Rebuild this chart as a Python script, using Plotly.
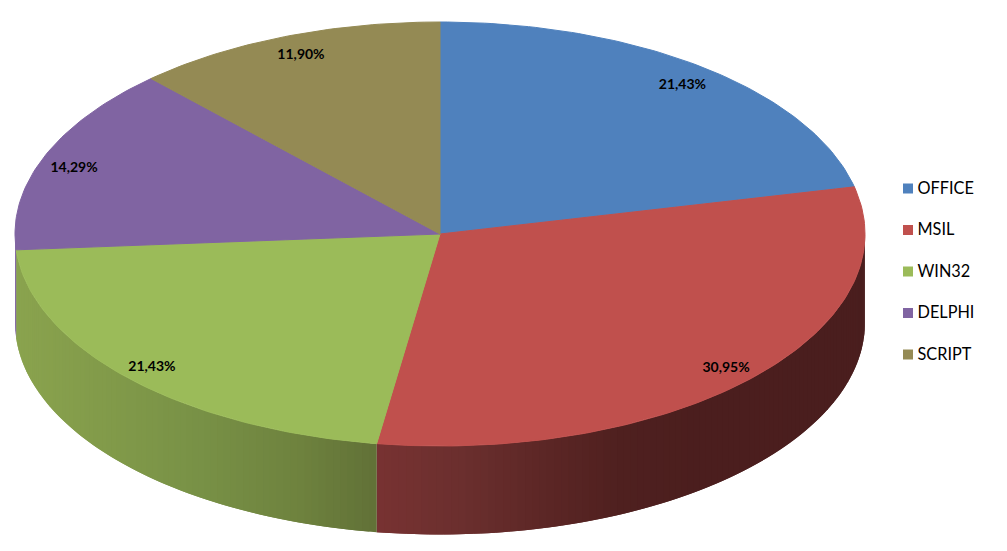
import math
import plotly.graph_objects as go

categories = ["OFFICE", "MSIL", "WIN32", "DELPHI", "SCRIPT"]
shares = [21.43, 30.95, 21.43, 14.29, 11.90]
share_labels = ["21,43%", "30,95%", "21,43%", "14,29%", "11,90%"]
colors = ["#4F81BD", "#C0504D", "#9BBB59", "#8064A2", "#948A54"]

CX, CY, RX, RY, DEPTH = 440, 234, 425, 212, 88.5
LABEL_R = 0.915
FONT = "Lato"
label_nudge_x = [0, 1, -3, -4, 3]
label_nudge_y = [3, 3, 2, 5, 2]

# side-wall shading: (pixel x, rgb) stops per slice index
side_shades = {
    1: [(376, (120, 50, 50)), (460, (107, 47, 46)), (540, (93, 39, 38)), (620, (79, 32, 31)), (700, (75, 30, 30)), (865, (74, 30, 30))],
    2: [(16, (138, 163, 78)), (100, (130, 155, 74)), (200, (120, 145, 70)), (300, (110, 130, 62)), (376, (97, 113, 55))],
    3: [(14, (125, 97, 158)), (17, (125, 97, 158))],
}


def pt(deg, dy=0.0, r=1.0):
    a = math.radians(deg)
    return CX + RX * r * math.sin(a), CY - RY * r * math.cos(a) + dy


def shade(stops, x):
    if x <= stops[0][0]:
        c = stops[0][1]
    elif x >= stops[-1][0]:
        c = stops[-1][1]
    else:
        c = stops[0][1]
        for (x0, c0), (x1, c1) in zip(stops, stops[1:]):
            if x0 <= x <= x1:
                t = (x - x0) / (x1 - x0)
                c = tuple(round(u + (v - u) * t) for u, v in zip(c0, c1))
                break
    return "rgb(%d,%d,%d)" % tuple(c)


total = sum(shares)
edges = [0.0]
for s in shares:
    edges.append(edges[-1] + s / total * 360)

fig = go.Figure()


def poly(xs, ys, color, width=1):
    fig.add_trace(go.Scatter(x=xs, y=ys, mode="lines", fill="toself", fillcolor=color,
                             line=dict(color=color, width=width), hoverinfo="skip", showlegend=False))


# side walls: each band runs on under the next one, so no seams show
for i, stops in side_shades.items():
    a0 = max(edges[i], 90.0)
    a1 = min(edges[i + 1], 270.0)
    if a1 <= a0:
        continue
    n = max(2, int((a1 - a0) / 1.0))
    for k in range(n):
        s0 = a0 + (a1 - a0) * k / n
        s1 = a0 + (a1 - a0) * (k + 1) / n
        s2 = min(a1, s1 + (a1 - a0) / n)
        mid = pt((s0 + s1) / 2)
        arc = [pt(s0), pt(s1), pt(s2)]
        low = [pt(s2, DEPTH), pt(s1, DEPTH), pt(s0, DEPTH)]
        ring = arc + low + [arc[0]]
        poly([p[0] for p in ring], [p[1] for p in ring], shade(stops, mid[0]), width=0)

# top slices
for i, c in enumerate(colors):
    n = max(8, int((edges[i + 1] - edges[i]) / 1.0))
    pts = [pt(edges[i] + (edges[i + 1] - edges[i]) * k / n) for k in range(n + 1)]
    poly([CX] + [p[0] for p in pts] + [CX], [CY] + [p[1] for p in pts] + [CY], c)

# percentage labels
lab = [pt((edges[i] + edges[i + 1]) / 2, r=LABEL_R) for i in range(len(shares))]
fig.add_trace(go.Scatter(x=[p[0] + dx for p, dx in zip(lab, label_nudge_x)],
                         y=[p[1] + dy for p, dy in zip(lab, label_nudge_y)], mode="text", text=share_labels,
                         textposition="middle center", textfont=dict(family=FONT, size=14, color="#000000", weight="bold"),
                         hoverinfo="skip", showlegend=False))

# legend
LEG_SW_X, LEG_TEXT_X, LEG_Y0, LEG_STEP = 908, 917.5, 188.5, 41.5
leg_y = [LEG_Y0 + LEG_STEP * i for i in range(len(categories))]
fig.add_trace(go.Scatter(x=[LEG_SW_X] * len(categories), y=leg_y, mode="markers",
                         marker=dict(symbol="square", size=10, color=colors, line=dict(width=0)),
                         hoverinfo="skip", showlegend=False))
fig.add_trace(go.Scatter(x=[LEG_TEXT_X] * len(categories), y=[v + 1 for v in leg_y], mode="text", text=categories,
                         textposition="middle right", textfont=dict(family=FONT, size=16.3, color="#000000"),
                         hoverinfo="skip", showlegend=False))

fig.update_layout(width=1007, height=551, margin=dict(l=0, r=0, t=0, b=0), showlegend=False,
                  paper_bgcolor="#FFFFFF", plot_bgcolor="#FFFFFF",
                  xaxis=dict(range=[0, 1007], visible=False, fixedrange=True),
                  yaxis=dict(range=[551, 0], visible=False, fixedrange=True))
fig.write_html("out.html", config={"displayModeBar": False}, post_script="document.body.style.margin='0';")
